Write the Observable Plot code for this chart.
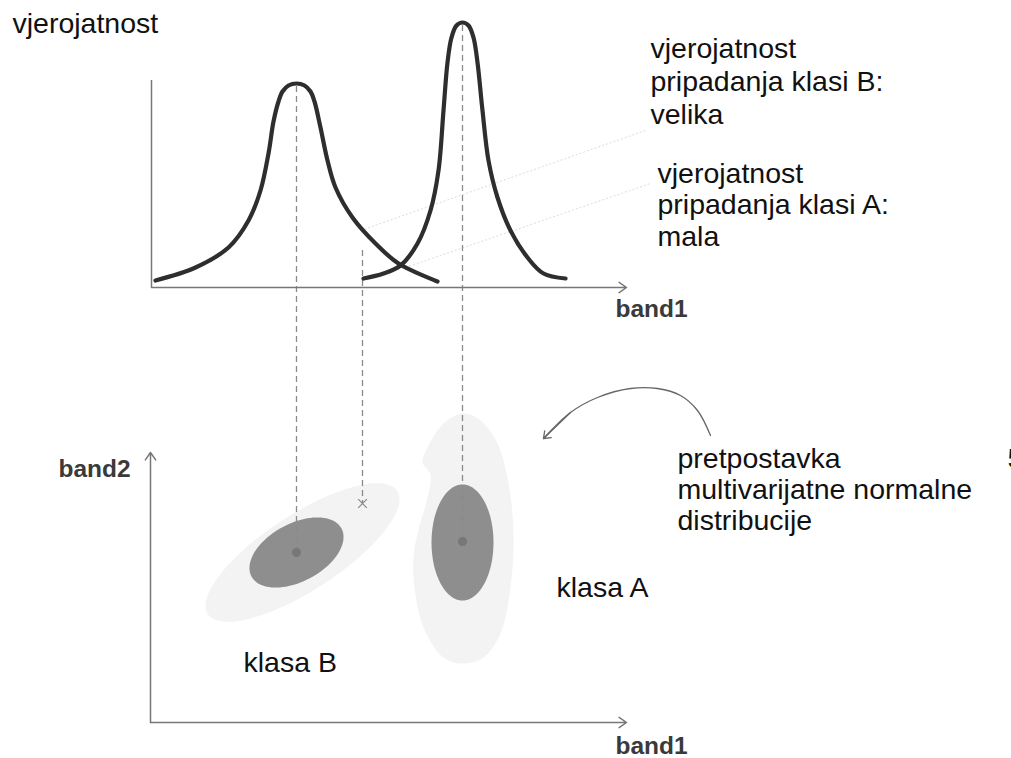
<!DOCTYPE html>
<html><head><meta charset="utf-8">
<script src="https://cdn.jsdelivr.net/npm/d3@7"></script>
<script src="https://cdn.jsdelivr.net/npm/@observablehq/plot@0.6"></script>
<style>html,body{margin:0;padding:0;background:#fff;} svg{display:block}</style>
</head><body><div id="chart"></div>
<script>
// ---- Diagram data (x = band1 position, y = vertical position, measured downward) ----
// Probability curve of class B (left peak)
const curveBx = [155,195,228,248,260,268,273,278,282,288,296,304,310,314,320,327,335,352,375,398,437];
const curveBy = [280,267,247,220,190,153,121,101,91,85,83,85,91,101,127,160,187,217,243,263,281];
// Probability curve of class A (right peak)
const curveAx = [363,383,400,417,430,438,443,447,451,456,462,468,473,477,482,488,497,510,527,543,565];
const curveAy = [278,273,265,243,210,170,110,62,37,25,22,25,37,62,110,160,197,230,257,273,278];

// Class means in (band1, band2) space
const meanNames = ["klasa B", "klasa A"];
const meanX = [296, 462];
const meanY = [552, 541];
const peakY = [86, 25];

// Unknown pixel (x marker)
const pixelX = [362];
const pixelY = [503];
const pixelTopY = [250];

// Ellipses: [cx, cy, semi-major, semi-minor, tilt degrees]
const innerB = [296, 552, 51, 29, 28];
const outerB = [302, 552, 113, 38, 33];
const innerA = [462, 542, 31, 58, 0];
// Outer (irregular) region of class A, outline points
const outerAx = [463,480,497,508,513,510,500,483,462,443,423,414,413,417,427,430,422,427,443];
const outerAy = [413,420,443,483,533,587,633,657,663,657,627,587,557,533,497,474,462,447,423];

// Faint leader lines from labels to curves
const leaderX1 = [360, 405], leaderY1 = [230, 267];
const leaderX2 = [645, 650], leaderY2 = [130, 183];

// Curved annotation arrow path
const noteArrowX = [710,697,680,657,630,597,570,543];
const noteArrowY = [435,410,395,388,388,397,412,438];

// Axes (x1,y1 -> x2,y2)
const axisX1 = [151, 150, 150], axisY1 = [287, 722, 722];
const axisX2 = [626, 626, 150], axisY2 = [287, 722, 452];

// Labels
const plainLabels = [
  "vjerojatnost",
  "vjerojatnost", "pripadanja klasi B:", "velika",
  "vjerojatnost", "pripadanja klasi A:", "mala",
  "pretpostavka", "multivarijatne normalne", "distribucije",
  "klasa A", "klasa B", "5"
];
const plainLabelX = [12, 650,650,650, 657,657,657, 677,677,677, 556, 243, 1007];
const plainLabelY = [32, 57,90,123, 182,213,245, 467,498,529, 596, 671, 467];
const axisLabels = ["band1", "band2", "band1"];
const axisLabelX = [615, 58, 615];
const axisLabelY = [316, 476, 753];

// ---- helpers to build tables ----
const zip = (xs, ys) => xs.map((x, i) => ({x, y: ys[i]}));
function ellipse([cx, cy, a, b, deg]) {
  const t = deg * Math.PI / 180, pts = [];
  for (let i = 0; i < 96; i++) {
    const p = i / 96 * 2 * Math.PI;
    pts.push({
      x: cx + a * Math.cos(p) * Math.cos(t) + b * Math.sin(p) * Math.sin(t),
      y: cy - a * Math.cos(p) * Math.sin(t) + b * Math.sin(p) * Math.cos(t)
    });
  }
  return pts;
}
const means = meanNames.map((n, i) => ({n, x: meanX[i], y: meanY[i], top: peakY[i]}));
const pixel = pixelX.map((x, i) => ({x, y: pixelY[i], top: pixelTopY[i]}));
const leaders = leaderX1.map((x, i) => ({x1: x, y1: leaderY1[i], x2: leaderX2[i], y2: leaderY2[i]}));
const axes = axisX1.map((x, i) => ({x1: x, y1: axisY1[i], x2: axisX2[i], y2: axisY2[i]}));
const noteArrow = zip(noteArrowX, noteArrowY);
const noteHead = [{x1: noteArrowX[6], y1: noteArrowY[6], x2: noteArrowX[7], y2: noteArrowY[7]}];
const labels = plainLabels.map((t, i) => ({t, x: plainLabelX[i], y: plainLabelY[i]}));
const bandLabels = axisLabels.map((t, i) => ({t, x: axisLabelX[i], y: axisLabelY[i]}));

const chart = Plot.plot({
  width: 1011, height: 758, margin: 0,
  x: {domain: [0, 1011], range: [0, 1011], axis: null},
  y: {domain: [0, 758], range: [0, 758], axis: null},
  style: {fontFamily: "'Liberation Sans', Arial, sans-serif", background: "#fff"},
  marks: [
    // class regions
    Plot.line(ellipse(outerB), {x: "x", y: "y", fill: "#f3f3f3", stroke: "none", curve: "linear-closed"}),
    Plot.line(zip(outerAx, outerAy), {x: "x", y: "y", fill: "#f3f3f3", stroke: "none", curve: "catmull-rom-closed"}),
    Plot.line(ellipse(innerB), {x: "x", y: "y", fill: "#8e8e8e", stroke: "none", curve: "linear-closed"}),
    Plot.line(ellipse(innerA), {x: "x", y: "y", fill: "#8e8e8e", stroke: "none", curve: "linear-closed"}),
    // faint leader lines
    Plot.link(leaders, {x1: "x1", y1: "y1", x2: "x2", y2: "y2", stroke: "#dcdcdc", strokeWidth: 1, strokeDasharray: "2,2"}),
    // dashed projection lines
    Plot.ruleX(means, {x: "x", y1: "top", y2: "y", stroke: "#8a8a8a", strokeWidth: 1.3, strokeDasharray: "6,4"}),
    Plot.ruleX(pixel, {x: "x", y1: "top", y2: "y", stroke: "#8a8a8a", strokeWidth: 1.3, strokeDasharray: "6,4"}),
    // class means and pixel
    Plot.dot(means, {x: "x", y: "y", r: 4.5, fill: "#777", stroke: "none"}),
    Plot.dot(pixel, {x: "x", y: "y", r: 4, symbol: "times", stroke: "#888", strokeWidth: 1.2}),
    // axes
    Plot.ruleX([151], {y1: 80, y2: 287, stroke: "#777", strokeWidth: 1.5}),
    Plot.arrow(axes, {x1: "x1", y1: "y1", x2: "x2", y2: "y2", stroke: "#777", strokeWidth: 1.5, headLength: 9, headAngle: 70}),
    // probability curves
    Plot.line(zip(curveBx, curveBy), {x: "x", y: "y", stroke: "#2e2e2e", strokeWidth: 4.2, curve: "catmull-rom"}),
    Plot.line(zip(curveAx, curveAy), {x: "x", y: "y", stroke: "#2e2e2e", strokeWidth: 4.2, curve: "catmull-rom"}),
    // curved annotation arrow
    Plot.line(noteArrow, {x: "x", y: "y", stroke: "#666", strokeWidth: 1.3, curve: "catmull-rom"}),
    Plot.arrow(noteHead, {x1: "x1", y1: "y1", x2: "x2", y2: "y2", stroke: "#666", strokeWidth: 1.3, headLength: 9, headAngle: 75}),
    // labels
    Plot.text(labels, {x: "x", y: "y", text: "t", fontSize: 28.5, textAnchor: "start", lineAnchor: "bottom", fill: "#111"}),
    Plot.text(bandLabels, {x: "x", y: "y", text: "t", fontSize: 24.5, fontWeight: "bold", textAnchor: "start", lineAnchor: "bottom", fill: "#3a3a3a"})
  ]
});
document.getElementById("chart").appendChild(chart);
</script>
</body></html>
